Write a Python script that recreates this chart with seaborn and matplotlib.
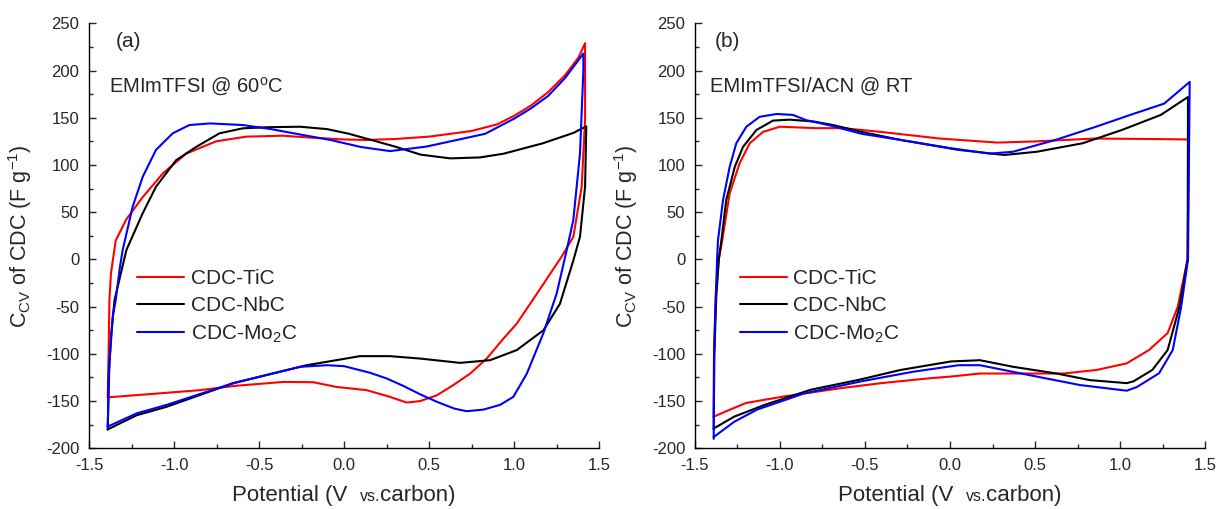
import pandas as pd
import matplotlib
matplotlib.use("Agg")
from matplotlib import pyplot as plt
from matplotlib.ticker import MultipleLocator
from matplotlib.offsetbox import TextArea, HPacker, AnchoredOffsetbox
import seaborn as sns

# ---- data (potential in V, capacitance in F/g) ----
samples = ["CDC-TiC", "CDC-NbC", "CDC-Mo$_2$C"]
colors = ["#ff0000", "#000000", "#0000ff"]

# panel (a): EMImTFSI @ 60 C, each loop = anodic sweep then cathodic sweep
a_tic_v = [-1.39, -1.385, -1.38, -1.371, -1.343, -1.282, -1.184, -1.066, -0.929, -0.753, -0.576, -0.36, -0.2, 0.0, 0.133, 0.3, 0.5, 0.75, 0.9, 1.0, 1.1, 1.2, 1.3, 1.38, 1.418,
           1.418, 1.398, 1.349, 1.28, 1.173, 1.016, 0.937, 0.839, 0.741, 0.643, 0.545, 0.447, 0.369, 0.31, 0.27, 0.133, -0.045, -0.18, -0.357, -0.65, -0.847, -1.1, -1.39]
a_tic_c = [-146, -100, -43, -15, 20, 42, 66, 91, 112, 125, 130, 131, 129, 127, 126.5, 127.5, 130, 136, 143, 152, 163, 177, 195, 214, 229,
           148, 77, 24, 3, -26, -68, -84, -105, -121, -133, -144, -150, -151.5, -148, -145.5, -138.4, -135, -130, -129.7, -134, -138.4, -142, -146]

a_nbc_v = [-1.39, -1.383, -1.37, -1.35, -1.28, -1.184, -1.106, -0.988, -0.871, -0.733, -0.596, -0.45, -0.259, -0.1, 0.03, 0.3, 0.45, 0.624, 0.8, 0.94, 1.17, 1.35, 1.425,
           1.418, 1.388, 1.349, 1.27, 1.173, 1.016, 0.859, 0.682, 0.45, 0.27, 0.094, -0.22, -0.651, -1.043, -1.22, -1.39]
a_nbc_c = [-180, -120, -80, -43, 10, 49, 77, 105, 119, 133.5, 138.8, 140, 140.5, 138, 133, 119.5, 111, 107, 108, 112, 123, 134, 141,
           77, 24, -1, -47, -75, -96, -106.7, -109.5, -105, -102.4, -102.4, -112, -131, -156, -165, -180]

a_mo_v = [-1.39, -1.38, -1.36, -1.343, -1.318, -1.302, -1.243, -1.184, -1.106, -1.008, -0.91, -0.788, -0.596, -0.43, -0.25, -0.08, 0.1, 0.271, 0.485, 0.83, 1.0, 1.1, 1.2, 1.3, 1.408,
          1.408, 1.388, 1.349, 1.31, 1.251, 1.173, 1.075, 0.996, 0.918, 0.82, 0.722, 0.65, 0.55, 0.45, 0.35, 0.25, 0.153, 0.0, -0.1, -0.259, -0.651, -1.043, -1.22, -1.39]
a_mo_c = [-177, -110, -60, -43, -8, 10, 56, 87.5, 116, 133.5, 142.3, 144, 142.3, 138, 132, 126.5, 119, 114.7, 119.5, 133, 149, 160, 173, 192, 218,
          200, 112, 42, 10, -36, -78, -121, -145.5, -154, -159, -160.7, -158, -151, -143, -134, -126, -120, -113, -112, -113.7, -131, -154, -163, -177]

# panel (b): EMImTFSI/ACN @ RT
b_tic_v = [-1.39, -1.388, -1.378, -1.36, -1.34, -1.296, -1.237, -1.178, -1.1, -1.002, -0.788, -0.63, -0.405, -0.06, 0.28, 0.51, 0.85, 1.19, 1.405,
           1.405, 1.397, 1.34, 1.28, 1.17, 1.04, 0.863, 0.667, 0.176, 0.006, -0.13, -0.405, -0.63, -0.975, -1.20, -1.32, -1.39]
b_tic_c = [-167, -100, -40, 0, 20, 70, 102, 123, 135, 140.5, 139, 139, 135, 128, 123.7, 125, 128, 127.5, 127,
           127, 0, -50, -78, -96, -110, -117, -120.8, -120.8, -124, -126, -131, -136, -145, -152, -161, -166.5]

b_nbc_v = [-1.39, -1.386, -1.375, -1.36, -1.345, -1.316, -1.266, -1.218, -1.139, -1.041, -0.943, -0.8, -0.68, -0.52, -0.29, 0.05, 0.32, 0.51, 0.78, 1.01, 1.24, 1.40,
           1.40, 1.398, 1.35, 1.28, 1.19, 1.08, 1.04, 0.824, 0.628, 0.372, 0.176, 0.006, -0.29, -0.54, -0.82, -1.09, -1.27, -1.39]
b_nbc_c = [-180, -100, -40, 0, 20, 63, 98, 119, 137, 147, 148, 146, 142, 135, 126.5, 116, 110.6, 114, 123, 137, 153, 172,
           172, 0, -50, -96, -117, -129, -131, -127.8, -120.8, -113.7, -106.7, -108, -117, -127.6, -138, -154, -166.5, -179]

b_mo_v = [-1.39, -1.388, -1.378, -1.37, -1.365, -1.335, -1.296, -1.257, -1.198, -1.12, -1.02, -0.924, -0.847, -0.708, -0.52, -0.29, 0.006, 0.235, 0.37, 0.62, 0.85, 1.06, 1.26, 1.41,
          1.41, 1.40, 1.36, 1.31, 1.23, 1.10, 1.04, 0.765, 0.47, 0.176, 0.05, -0.22, -0.52, -0.86, -1.135, -1.27, -1.39]
b_mo_c = [-190, -100, -40, 0, 20, 63, 98, 123, 140.5, 151, 154, 153, 147.5, 142, 133, 126.5, 117.7, 112, 114, 126.5, 140, 153, 165, 188,
          188, 0, -50, -96, -120.5, -135, -139, -133, -122.6, -112, -112, -119, -129, -142, -159, -172, -188]

panel_tags = ["(a)", "(b)"]
panel_titles = ["EMImTFSI @ 60$^{o}$C", "EMImTFSI/ACN @ RT"]

x_ticks = [-1.5, -1.0, -0.5, 0.0, 0.5, 1.0, 1.5]
y_ticks = [-200, -150, -100, -50, 0, 50, 100, 150, 200, 250]


def make_frame(curves):
    rows = []
    for name, (v, c) in zip(samples, curves):
        for i, (vv, cc) in enumerate(zip(v, c)):
            rows.append({"sample": name, "step": i, "v": vv, "c": cc})
    return pd.DataFrame(rows)


df_a = make_frame([(a_tic_v, a_tic_c), (a_nbc_v, a_nbc_c), (a_mo_v, a_mo_c)])
df_b = make_frame([(b_tic_v, b_tic_c), (b_nbc_v, b_nbc_c), (b_mo_v, b_mo_c)])

sns.set_style("ticks")
plt.rcParams["font.family"] = ["Liberation Sans", "DejaVu Sans"]
plt.rcParams["mathtext.fontset"] = "custom"
plt.rcParams["mathtext.rm"] = "Liberation Sans"
plt.rcParams["mathtext.it"] = "Liberation Sans"
plt.rcParams["mathtext.default"] = "regular"
plt.rcParams["axes.unicode_minus"] = False

fig = plt.figure(figsize=(12.21, 5.09), dpi=100)
ax_a = fig.add_axes([0.0729, 0.1192, 0.4177, 0.835])
ax_b = fig.add_axes([0.5692, 0.1192, 0.4177, 0.835])

legend_x = [0.095, 0.088]
title_x = [-1.385, -1.41]
tag_x = [-1.341, -1.384]

for k, (ax, df) in enumerate([(ax_a, df_a), (ax_b, df_b)]):
    sns.lineplot(data=df, x="v", y="c", hue="sample", hue_order=samples,
                 palette=colors, sort=False, estimator=None, units="sample",
                 lw=1.5, ax=ax)
    ax.set_xlim(-1.5, 1.5)
    ax.set_ylim(-200, 250)
    ax.set_xticks(x_ticks)
    ax.set_xticklabels(["%.1f" % t for t in x_ticks])
    ax.set_yticks(y_ticks)
    ax.xaxis.set_minor_locator(MultipleLocator(0.25))
    ax.yaxis.set_minor_locator(MultipleLocator(25))
    ax.tick_params(which="major", direction="in", length=5, width=1, labelsize=12, pad=7)
    ax.tick_params(which="minor", direction="in", length=3, width=1)
    sns.despine(ax=ax)
    for s in ["left", "bottom"]:
        ax.spines[s].set_linewidth(1.0)
        ax.spines[s].set_color("black")

    ax.set_xlabel("")
    ax.set_ylabel("C$_{CV}$ of CDC (F g$^{-1}$)", fontsize=15.5)
    ax.yaxis.set_label_coords(-0.108, 0.5)

    # x label with a smaller "vs."
    parts = HPacker(children=[TextArea("Potential (V  ", textprops=dict(size=16)),
                              TextArea("vs.", textprops=dict(size=11.5)),
                              TextArea("carbon)", textprops=dict(size=16))],
                    align="baseline", pad=0, sep=0)
    box = AnchoredOffsetbox(loc="upper center", child=parts, pad=0, frameon=False,
                            bbox_to_anchor=(0.5, -0.087), bbox_transform=ax.transAxes,
                            borderpad=0)
    ax.add_artist(box)

    ax.text(tag_x[k], 231, panel_tags[k], fontsize=15, va="center", ha="left")
    ax.text(title_x[k], 183, panel_titles[k], fontsize=14.5, va="center", ha="left")

    leg = ax.legend(loc="upper left", bbox_to_anchor=(legend_x[k], 0.422), frameon=False,
                    fontsize=15, handlelength=2.25, handletextpad=0.3, labelspacing=0.4,
                    borderpad=0, borderaxespad=0)
    for line in leg.get_lines():
        line.set_linewidth(1.5)

plt.savefig("out.png", dpi=100)
